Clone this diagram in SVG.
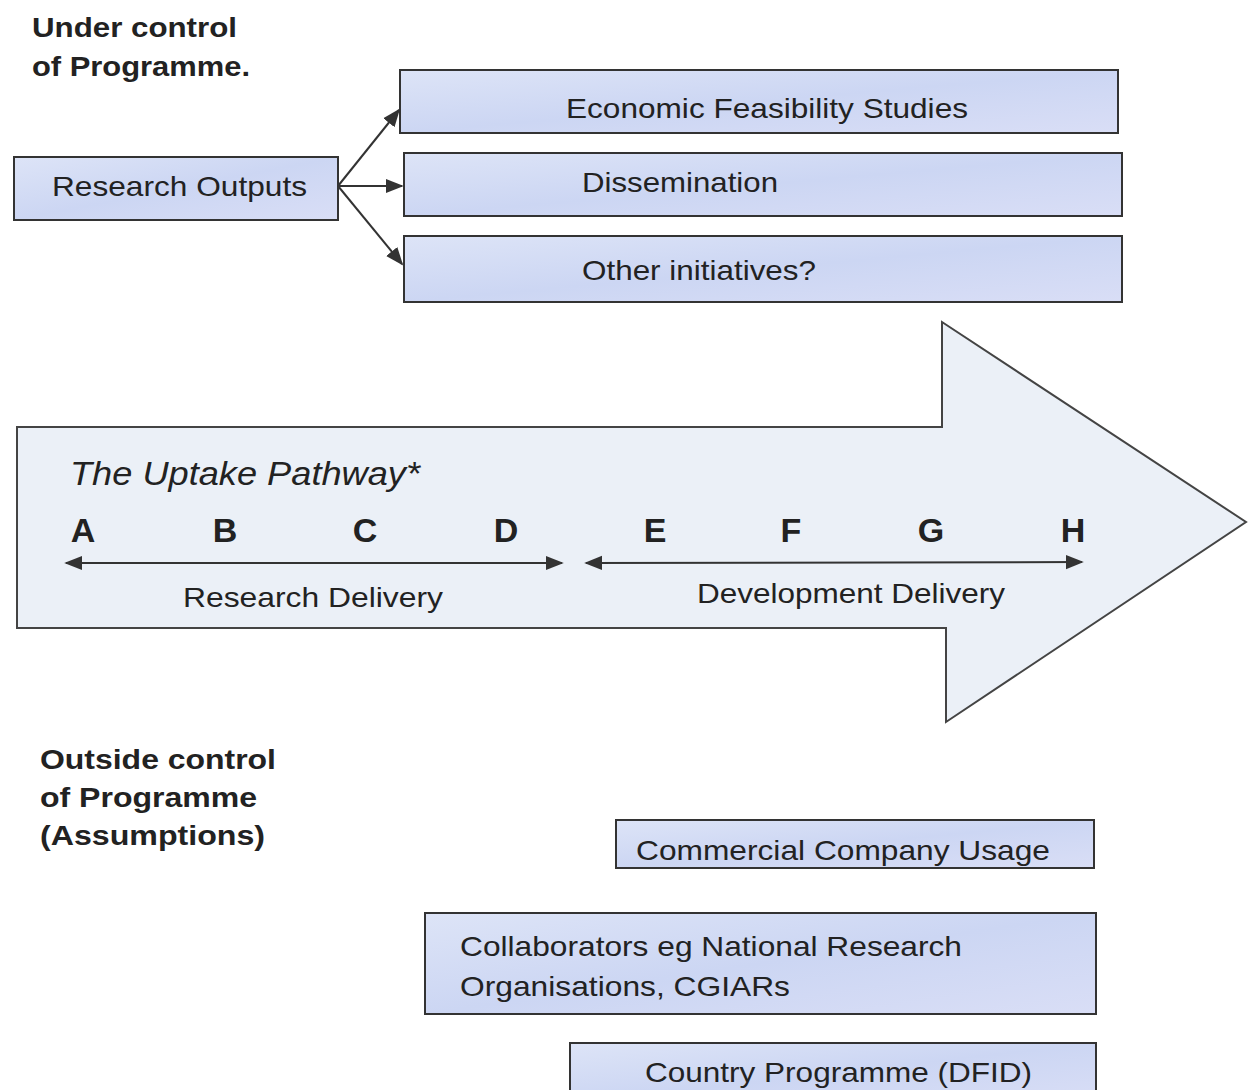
<svg xmlns="http://www.w3.org/2000/svg" width="1248" height="1090" viewBox="0 0 1248 1090">
<defs>
<linearGradient id="boxfill" x1="0" y1="0" x2="1" y2="1">
<stop offset="0" stop-color="#dde4f7"/>
<stop offset="0.5" stop-color="#ccd6f3"/>
<stop offset="1" stop-color="#d9def6"/>
</linearGradient>
<marker id="ah2" viewBox="0 0 10 10" refX="9" refY="5" markerWidth="18" markerHeight="18" markerUnits="userSpaceOnUse" orient="auto-start-reverse">
<path d="M0,1 L10,5 L0,9 z" fill="#333"/>
</marker>
</defs>
<style>
.box{fill:url(#boxfill);stroke:#333;stroke-width:2}
.t{font-family:"Liberation Sans",Arial,sans-serif;font-size:28px;fill:#222}
.lbl{font-family:"Liberation Sans",Arial,sans-serif;font-size:28px;font-weight:bold;fill:#222}
.big{font-family:"Liberation Sans",Arial,sans-serif;font-size:34px;font-weight:bold;fill:#222}
.conn{stroke:#333;stroke-width:2;fill:none}
</style>
<rect width="1248" height="1090" fill="#fff"/>

<g id="label-under">
<text class="lbl" x="32" y="37" textLength="205" lengthAdjust="spacingAndGlyphs">Under control</text>
<text class="lbl" x="32" y="76" textLength="218" lengthAdjust="spacingAndGlyphs">of Programme.</text>
</g>

<g id="pathway">
<path d="M17,427 L942,427 L942,322 L1246,522 L946,722 L946,628 L17,628 Z" fill="#ebf0f7" stroke="#444" stroke-width="2"/>
<text x="70" y="485" font-family="Liberation Sans,Arial,sans-serif" font-size="33" font-style="italic" fill="#222" textLength="350" lengthAdjust="spacingAndGlyphs">The Uptake Pathway*</text>
<text class="big" x="83" y="542" text-anchor="middle">A</text>
<text class="big" x="225" y="542" text-anchor="middle">B</text>
<text class="big" x="365" y="542" text-anchor="middle">C</text>
<text class="big" x="506" y="542" text-anchor="middle">D</text>
<text class="big" x="655" y="542" text-anchor="middle">E</text>
<text class="big" x="791" y="542" text-anchor="middle">F</text>
<text class="big" x="931" y="542" text-anchor="middle">G</text>
<text class="big" x="1073" y="542" text-anchor="middle">H</text>
<text class="t" x="183" y="607" textLength="260" lengthAdjust="spacingAndGlyphs">Research Delivery</text>
<text class="t" x="697" y="603" textLength="308" lengthAdjust="spacingAndGlyphs">Development Delivery</text>
</g>

<g id="research-outputs">
<rect class="box" x="14" y="157" width="324" height="63"/>
<text class="t" x="52" y="196" textLength="255" lengthAdjust="spacingAndGlyphs">Research Outputs</text>
</g>
<g id="economic">
<rect class="box" x="400" y="70" width="718" height="63"/>
<text class="t" x="566" y="118" textLength="402" lengthAdjust="spacingAndGlyphs">Economic Feasibility Studies</text>
</g>
<g id="dissemination">
<rect class="box" x="404" y="153" width="718" height="63"/>
<text class="t" x="582" y="192" textLength="196" lengthAdjust="spacingAndGlyphs">Dissemination</text>
</g>
<g id="other">
<rect class="box" x="404" y="236" width="718" height="66"/>
<text class="t" x="582" y="280" textLength="234" lengthAdjust="spacingAndGlyphs">Other initiatives?</text>
</g>

<g id="label-outside">
<text class="lbl" x="40" y="769" textLength="236" lengthAdjust="spacingAndGlyphs">Outside control</text>
<text class="lbl" x="40" y="807" textLength="217" lengthAdjust="spacingAndGlyphs">of Programme</text>
<text class="lbl" x="40" y="845" textLength="225" lengthAdjust="spacingAndGlyphs">(Assumptions)</text>
</g>

<g id="commercial">
<rect class="box" x="616" y="820" width="478" height="48"/>
<text class="t" x="636" y="860" textLength="414" lengthAdjust="spacingAndGlyphs">Commercial Company Usage</text>
</g>
<g id="collaborators">
<rect class="box" x="425" y="913" width="671" height="101"/>
<text class="t" x="460" y="956" textLength="502" lengthAdjust="spacingAndGlyphs">Collaborators eg National Research</text>
<text class="t" x="460" y="996" textLength="330" lengthAdjust="spacingAndGlyphs">Organisations, CGIARs</text>
</g>
<g id="country">
<rect class="box" x="570" y="1043" width="526" height="60"/>
<text class="t" x="645" y="1082" textLength="387" lengthAdjust="spacingAndGlyphs">Country Programme (DFID)</text>
</g>

<g id="connectors">
<line class="conn" x1="338" y1="186" x2="399" y2="110" marker-end="url(#ah2)"/>
<line class="conn" x1="338" y1="186" x2="402" y2="186" marker-end="url(#ah2)"/>
<line class="conn" x1="338" y1="186" x2="402" y2="264" marker-end="url(#ah2)"/>
<line class="conn" x1="66" y1="563" x2="562" y2="563" marker-start="url(#ah2)" marker-end="url(#ah2)"/>
<line class="conn" x1="586" y1="563" x2="1082" y2="562" marker-start="url(#ah2)" marker-end="url(#ah2)"/>
</g>
</svg>
